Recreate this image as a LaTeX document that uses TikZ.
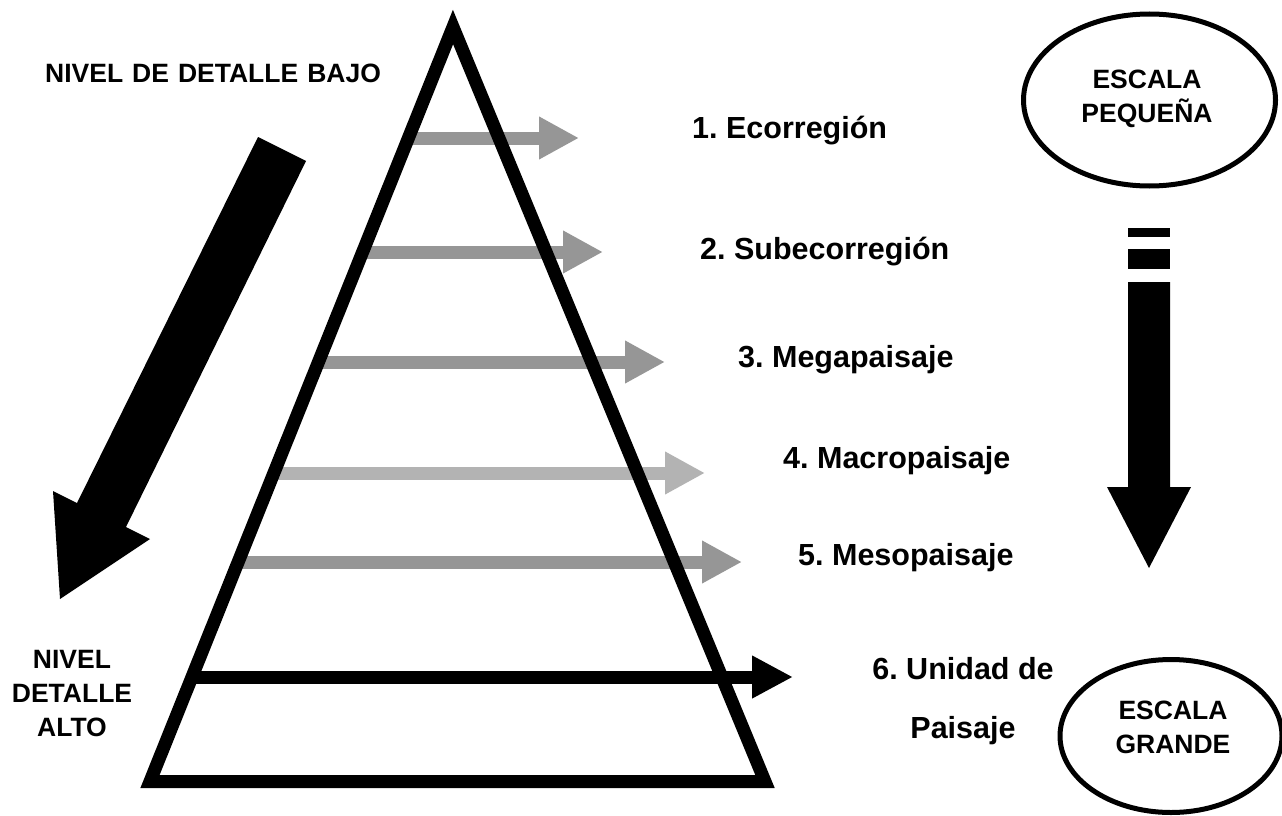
\documentclass[tikz,border=0pt]{standalone}
\usepackage{fontspec}
\setmainfont{Liberation Sans}
\usetikzlibrary{arrows.meta,shapes.geometric}
\definecolor{arrgray}{RGB}{150,150,150}
\definecolor{arrlight}{RGB}{179,179,179}
\frenchspacing
\begin{document}
\begin{tikzpicture}[x=1pt,y=-1pt,
  lab/.style={font=\bfseries\fontsize{30.5}{36}\selectfont, inner sep=0pt},
  caps/.style={font=\bfseries\fontsize{26.5}{34}\selectfont, inner sep=0pt, align=center},
  grayarr/.style={draw=arrgray, line width=13pt, -{Triangle[length=40pt,width=40pt]}},
  lightarr/.style={grayarr, draw=arrlight},
  blackarr/.style={draw=black, line width=13pt, -{Triangle[length=41pt,width=40pt]}},
  pyramid/.style={draw=black, line width=13pt, line join=miter},
  oval/.style={ellipse, draw=black, line width=5pt, inner sep=0pt},
  bigarrow/.style={fill=black}]
\fill[white] (0,0) rectangle (1282,816);
\useasboundingbox (0,0) rectangle (1282,816);

% level arrows (under the pyramid)
\coordinate (s1) at (408,138);  \coordinate (e1) at (579,138);
\coordinate (s2) at (363,252);  \coordinate (e2) at (603,252);
\coordinate (s3) at (318,362);  \coordinate (e3) at (665,362);
\coordinate (s4) at (274,473);  \coordinate (e4) at (705,473);
\coordinate (s5) at (238,562);  \coordinate (e5) at (742,562);
\coordinate (s6) at (192,677);  \coordinate (e6) at (793,677);
\draw[grayarr]  (s1) -- (e1);
\draw[grayarr]  (s2) -- (e2);
\draw[grayarr]  (s3) -- (e3);
\draw[lightarr] (s4) -- (e4);
\draw[grayarr]  (s5) -- (e5);

% pyramid
\coordinate (apex) at (453,27);
\coordinate (bl) at (150,781.5);
\coordinate (br) at (765,781.5);
\draw[pyramid] (apex) -- (bl) -- (br) -- cycle;

\draw[blackarr] (s6) -- (e6);

% level labels
\node[lab, anchor=base west] (t1) at (692,138) {1. Ecorregión};
\node[lab, anchor=base west] (t2) at (700,259) {2. Subecorregión};
\node[lab, anchor=base west] (t3) at (738,367) {3. Megapaisaje};
\node[lab, anchor=base west] (t4) at (783,468) {4. Macropaisaje};
\node[lab, anchor=base west] (t5) at (798,565) {5. Mesopaisaje};
\node[lab, anchor=north, align=center, font=\bfseries\fontsize{30.5}{59}\selectfont] (t6) at (963,657) {6. Unidad de\\Paisaje};

% left side
\node[caps, anchor=base west] (bajo) at (45,82) {\spaceskip=9pt NIVEL DE DETALLE BAJO};
\node[caps, anchor=north] (alto) at (72,650) {NIVEL\\DETALLE\\ALTO};
\path[bigarrow] (258,137) -- (306,161) -- (126,527) -- (150,539) -- (60,599) -- (53,491) -- (77,503) -- cycle;

% right side
\node[oval, minimum width=252pt, minimum height=172pt] (ep) at (1149.5,100) {};
\node[caps, anchor=north] (ept) at (1147,70) {ESCALA\\PEQUEÑA};
\node[oval, minimum width=222pt, minimum height=153pt] (eg) at (1171,736) {};
\node[caps, anchor=north] (egt) at (1173,701) {ESCALA\\GRANDE};
\fill[black] (1128,228) rectangle (1170,237);
\fill[black] (1128,249) rectangle (1170,269);
\path[bigarrow] (1128,282) -- (1170,282) -- (1170,487) -- (1191,487) -- (1149,568) -- (1107,487) -- (1128,487) -- cycle;
\end{tikzpicture}
\end{document}
